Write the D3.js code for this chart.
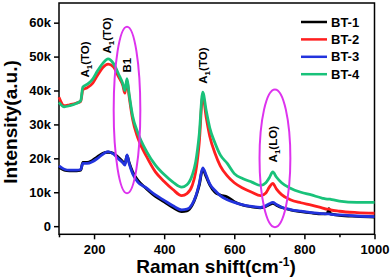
<!DOCTYPE html>
<html>
<head>
<meta charset="utf-8">
<script src="https://cdn.jsdelivr.net/npm/d3@7"></script>
<style>
  body { margin: 0; background: #fff; }
  text { font-family: "Liberation Sans", Arial, sans-serif; font-weight: bold; }
</style>
</head>
<body>
<div id="chart"></div>
<script>
// Raman spectra, four samples
const shift = [100,115,130,150,162,168,180,195,210,225,240,255,270,282,288,294,300,310,325,350,375,400,425,450,465,480,490,500,510,520,530,545,560,580,600,625,650,675,690,700,710,720,735,760,790,820,850,865,870,875,900,950,1000];

const bt1 = [17500,16500,16300,16300,16500,18800,18800,19400,20500,21500,21800,21500,20200,19000,18300,20800,18800,16000,13500,11000,8800,7200,5500,4300,4500,6200,8600,12000,16800,14500,12200,10000,9200,8600,7200,6200,5700,5400,5800,6300,6700,6200,5500,4800,4300,3900,3600,3700,5200,3600,3200,2900,2700];
const bt2 = [38000,35500,35800,36300,36800,40200,40800,42000,44500,46800,47800,47000,44000,41500,39200,43000,38300,31500,26000,20500,16000,13200,10800,9000,9600,12000,16000,24500,38500,32000,26500,21500,17800,14800,12800,11200,10000,9000,9800,11500,12600,11000,9300,7800,6900,6200,5400,5000,5000,4800,4400,4000,3800];
const bt3 = [17800,16800,16500,16500,16700,18500,18500,19000,20000,21200,22000,21300,19800,18700,18000,21000,18500,15500,13000,11200,9200,7600,6000,4800,5000,6500,8800,12500,17200,15000,12500,10500,9000,7800,7000,6300,5800,5500,6000,6600,7000,6400,5600,4900,4400,4000,3700,3600,3600,3500,3300,3000,2800];
const bt4 = [36500,35200,35500,36200,37000,41000,41800,43200,45800,48000,49300,48000,44800,42000,40000,43500,39000,32500,27500,22000,18000,15200,13000,11500,12200,15000,19000,27000,39500,34000,29000,24500,21000,18500,15500,14000,13000,12000,12800,14300,16000,14500,12800,11200,10000,9200,8300,8000,8000,7900,7400,7000,7000];

const seriesNames = ["BT-1", "BT-2", "BT-3", "BT-4"];
const seriesValues = [bt1, bt2, bt3, bt4];
const seriesColors = ["#000000", "#ff1f1f", "#2233dd", "#19c27a"];

// peak labels: [text, subscript, rest, shift, intensity at label base]
const peakLabels = [
  ["A", "1", "(TO)", 174, 43800],
  ["A", "1", "(TO)", 237, 50900],
  ["B1", "", "", 294, 45300],
  ["A", "1", "(TO)", 509, 42000],
  ["A", "1", "(LO)", 711, 18800]
];
// highlighted bands: centre shift, half width, top, bottom
const bandShift = [294, 716];
const bandHalf = [38, 44];
const bandTop = [58800, 40300];
const bandBottom = [9700, -300];

const width = 392, height = 277;
const svg = d3.select("#chart").append("svg")
    .attr("width", width)
    .attr("height", height);

const x = d3.scaleLinear().domain([100, 1000]).range([59, 374.5]);
const y = d3.scaleLinear().domain([-2400, 65800]).range([234.3, 3]);

// frame
svg.append("rect")
    .attr("x", x(100)).attr("y", y(65800))
    .attr("width", x(1000) - x(100)).attr("height", y(-2400) - y(65800))
    .attr("fill", "none").attr("stroke", "#000").attr("stroke-width", 1.5);

// y axis
const yAxis = svg.append("g")
    .attr("transform", `translate(${x(100)},0)`)
    .call(d3.axisLeft(y).tickValues(d3.range(0, 60001, 10000))
        .tickFormat(d3.format("~s")).tickSize(5).tickPadding(3));
yAxis.select(".domain").remove();
yAxis.selectAll("line").attr("stroke-width", 1.5);
yAxis.selectAll("text").attr("font-size", 13).attr("font-family", null);

// x axis
const xAxis = svg.append("g")
    .attr("transform", `translate(0,${y(-2400)})`)
    .call(d3.axisBottom(x).tickValues(d3.range(100, 1001, 100))
        .tickFormat(d => d % 200 === 0 ? d : "").tickSize(5).tickPadding(5));
xAxis.select(".domain").remove();
xAxis.selectAll("line").attr("stroke-width", 1.5)
    .attr("y2", d => d % 200 === 0 ? 5 : 3);
xAxis.selectAll("text").attr("font-size", 13).attr("font-family", null);

// axis titles
svg.append("text")
    .attr("transform", "translate(17,122) rotate(-90)")
    .attr("text-anchor", "middle")
    .attr("font-size", 19)
    .text("Intensity(a.u.)");

const xt = svg.append("text")
    .attr("x", 216).attr("y", 273)
    .attr("text-anchor", "middle")
    .attr("font-size", 19);
xt.append("tspan").text("Raman shift(cm");
xt.append("tspan").attr("font-size", 12).attr("dy", -7).text("-1");
xt.append("tspan").attr("dy", 7).text(")");

// spectra
const line = d3.line()
    .x((d, i) => x(shift[i]))
    .y(d => y(d))
    .curve(d3.curveMonotoneX);

svg.selectAll(".spectrum")
    .data(seriesValues)
    .enter()
    .append("path")
    .attr("class", "spectrum")
    .attr("d", d => line(d))
    .attr("fill", "none")
    .attr("stroke", (d, i) => seriesColors[i])
    .attr("stroke-width", 2.8)
    .attr("stroke-linejoin", "round");

// highlighted bands
svg.selectAll(".band")
    .data(bandShift)
    .enter()
    .append("ellipse")
    .attr("class", "band")
    .attr("cx", d => x(d))
    .attr("cy", (d, i) => (y(bandTop[i]) + y(bandBottom[i])) / 2)
    .attr("rx", (d, i) => x(d + bandHalf[i]) - x(d))
    .attr("ry", (d, i) => (y(bandBottom[i]) - y(bandTop[i])) / 2)
    .attr("fill", "none")
    .attr("stroke", "#dd33ee")
    .attr("stroke-width", 2);

// peak labels
peakLabels.forEach(p => {
  const t = svg.append("text")
      .attr("transform", `translate(${x(p[3])},${y(p[4])}) rotate(-90)`)
      .attr("dy", "0.36em")
      .attr("font-size", 11.5);
  t.append("tspan").text(p[0]);
  if (p[1]) {
    t.append("tspan").attr("font-size", 8).attr("dy", 3).text(p[1]);
    t.append("tspan").attr("dy", -3).text(p[2]);
  }
});

// legend
const legend = svg.append("g");
seriesNames.forEach((name, i) => {
  const ly = 22 + i * 17.4;
  legend.append("line")
      .attr("x1", 301).attr("x2", 327)
      .attr("y1", ly).attr("y2", ly)
      .attr("stroke", seriesColors[i]).attr("stroke-width", 2.5);
  legend.append("text")
      .attr("x", 331).attr("y", ly + 4.5)
      .attr("font-size", 13)
      .text(name);
});
</script>
</body>
</html>
